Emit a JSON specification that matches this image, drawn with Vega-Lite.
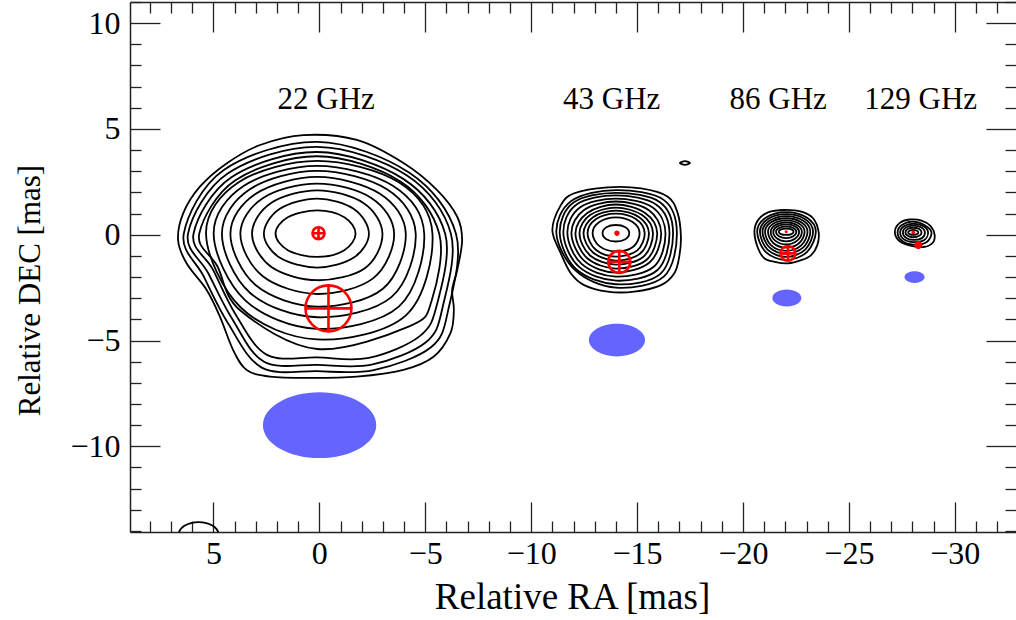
{
"$schema":"https://vega.github.io/schema/vega-lite/v6.json",
"width":886,"height":530,
"autosize":{"type":"none"},
"padding":{"left":130,"top":2,"right":0,"bottom":88},
"background":"white",
"config":{"view":{"stroke":null},"font":"Liberation Serif"},
"datasets":{
"contours":[
{"c":"a0","x":-1.71,"y":0.05},{"c":"a0","x":-1.18,"y":0.83},{"c":"a0","x":0.1,"y":1.15},{"c":"a0","x":1.49,"y":0.83},{"c":"a0","x":2.07,"y":0.05},{"c":"a0","x":1.49,"y":-0.73},{"c":"a0","x":0.1,"y":-1.05},{"c":"a0","x":-1.18,"y":-0.73},
{"c":"a1","x":-2.34,"y":0.05},{"c":"a1","x":-1.63,"y":1.22},{"c":"a1","x":0.1,"y":1.71},{"c":"a1","x":1.88,"y":1.22},{"c":"a1","x":2.62,"y":0.05},{"c":"a1","x":1.88,"y":-1.08},{"c":"a1","x":0.1,"y":-1.55},{"c":"a1","x":-1.63,"y":-1.08},
{"c":"a2","x":-2.98,"y":0.05},{"c":"a2","x":-2.08,"y":1.50},{"c":"a2","x":0.1,"y":2.10},{"c":"a2","x":2.28,"y":1.50},{"c":"a2","x":3.18,"y":0.05},{"c":"a2","x":2.28,"y":-1.51},{"c":"a2","x":0.1,"y":-2.15},{"c":"a2","x":-2.15,"y":-1.58},
{"c":"a3","x":-3.53,"y":0.05},{"c":"a3","x":-2.47,"y":1.73},{"c":"a3","x":0.1,"y":2.42},{"c":"a3","x":2.67,"y":1.73},{"c":"a3","x":3.73,"y":0.05},{"c":"a3","x":2.67,"y":-1.96},{"c":"a3","x":0.1,"y":-2.80},{"c":"a3","x":-2.55,"y":-2.05},
{"c":"a4","x":-4.08,"y":0.05},{"c":"a4","x":-2.86,"y":1.94},{"c":"a4","x":0.1,"y":2.73},{"c":"a4","x":3.00,"y":1.94},{"c":"a4","x":4.20,"y":0.05},{"c":"a4","x":3.00,"y":-2.39},{"c":"a4","x":0.1,"y":-3.40},{"c":"a4","x":-3.00,"y":-2.55},
{"c":"a5","x":-4.55,"y":0.05},{"c":"a5","x":-3.19,"y":2.15},{"c":"a5","x":0.1,"y":3.02},{"c":"a5","x":3.28,"y":2.15},{"c":"a5","x":4.60,"y":0.05},{"c":"a5","x":3.28,"y":-2.74},{"c":"a5","x":0.1,"y":-3.90},{"c":"a5","x":-3.40,"y":-2.95},
{"c":"a6","x":-4.95,"y":0.05},{"c":"a6","x":-3.47,"y":2.31},{"c":"a6","x":0.1,"y":3.25},{"c":"a6","x":3.56,"y":2.31},{"c":"a6","x":4.99,"y":0.05},{"c":"a6","x":3.50,"y":-3.10},{"c":"a6","x":0.1,"y":-4.45},{"c":"a6","x":-3.75,"y":-3.40},
{"c":"a7","x":-5.34,"y":0.05},{"c":"a7","x":-3.75,"y":2.48},{"c":"a7","x":0.1,"y":3.49},{"c":"a7","x":3.81,"y":2.48},{"c":"a7","x":5.35,"y":0.05},{"c":"a7","x":3.70,"y":-3.45},{"c":"a7","x":0.1,"y":-4.95},{"c":"a7","x":-4.10,"y":-3.80},
{"c":"a8","x":-5.66,"y":0.05},{"c":"a8","x":-3.81,"y":2.53},{"c":"a8","x":0.1,"y":3.71},{"c":"a8","x":3.96,"y":2.58},{"c":"a8","x":5.67,"y":0.05},{"c":"a8","x":4.82,"y":-1.48},{"c":"a8","x":3.73,"y":-3.58},{"c":"a8","x":0.1,"y":-5.40},{"c":"a8","x":-4.27,"y":-4.32},{"c":"a8","x":-5.31,"y":-3.08},
{"c":"a9","x":-5.94,"y":0.05},{"c":"a9","x":-3.96,"y":2.64},{"c":"a9","x":0.1,"y":3.91},{"c":"a9","x":4.15,"y":2.72},{"c":"a9","x":5.94,"y":0.05},{"c":"a9","x":5.03,"y":-1.64},{"c":"a9","x":3.94,"y":-3.79},{"c":"a9","x":2.47,"y":-5.68},{"c":"a9","x":0.1,"y":-5.80},{"c":"a9","x":-2.33,"y":-5.82},{"c":"a9","x":-4.74,"y":-4.79},{"c":"a9","x":-5.57,"y":-3.23},
{"c":"a10","x":-6.21,"y":0.05},{"c":"a10","x":-4.14,"y":2.80},{"c":"a10","x":0.1,"y":4.15},{"c":"a10","x":4.33,"y":2.89},{"c":"a10","x":6.20,"y":0.05},{"c":"a10","x":5.25,"y":-1.81},{"c":"a10","x":4.12,"y":-3.97},{"c":"a10","x":2.61,"y":-6.00},{"c":"a10","x":0.1,"y":-6.15},{"c":"a10","x":-2.47,"y":-6.14},{"c":"a10","x":-5.03,"y":-5.08},{"c":"a10","x":-5.83,"y":-3.38},
{"c":"a11","x":-6.45,"y":0.05},{"c":"a11","x":-4.25,"y":2.93},{"c":"a11","x":0.1,"y":4.39},{"c":"a11","x":4.51,"y":3.06},{"c":"a11","x":6.40,"y":0.05},{"c":"a11","x":5.46,"y":-1.97},{"c":"a11","x":4.32,"y":-4.17},{"c":"a11","x":2.72,"y":-6.28},{"c":"a11","x":0.1,"y":-6.45},{"c":"a11","x":-2.57,"y":-6.40},{"c":"a11","x":-5.27,"y":-5.32},{"c":"a11","x":-6.09,"y":-3.53},
{"c":"a12","x":6.67,"y":-0.25},{"c":"a12","x":6.43,"y":1.01},{"c":"a12","x":5.64,"y":2.27},{"c":"a12","x":4.38,"y":3.37},{"c":"a12","x":2.80,"y":4.24},{"c":"a12","x":0.75,"y":4.71},{"c":"a12","x":-1.77,"y":4.48},{"c":"a12","x":-3.97,"y":3.39},{"c":"a12","x":-5.56,"y":2.11},{"c":"a12","x":-6.51,"y":0.85},{"c":"a12","x":-6.74,"y":-0.25},{"c":"a12","x":-6.51,"y":-1.67},{"c":"a12","x":-6.27,"y":-2.61},{"c":"a12","x":-6.35,"y":-3.56},{"c":"a12","x":-6.19,"y":-4.65},{"c":"a12","x":-5.39,"y":-5.77},{"c":"a12","x":-3.97,"y":-6.39},{"c":"a12","x":-1.77,"y":-6.71},{"c":"a12","x":0.44,"y":-6.77},{"c":"a12","x":2.33,"y":-6.71},{"c":"a12","x":3.43,"y":-6.39},{"c":"a12","x":4.07,"y":-5.45},{"c":"a12","x":4.69,"y":-3.88},{"c":"a12","x":5.32,"y":-2.61},{"c":"a12","x":6.27,"y":-1.35},
{"c":"b0","x":-14.63,"y":0.07},{"c":"b0","x":-14.45,"y":0.35},{"c":"b0","x":-14.0,"y":0.46},{"c":"b0","x":-13.55,"y":0.35},{"c":"b0","x":-13.37,"y":0.07},{"c":"b0","x":-13.55,"y":-0.21},{"c":"b0","x":-14.0,"y":-0.32},{"c":"b0","x":-14.45,"y":-0.21},
{"c":"b1","x":-15.12,"y":0.07},{"c":"b1","x":-14.79,"y":0.60},{"c":"b1","x":-14.0,"y":0.82},{"c":"b1","x":-13.22,"y":0.60},{"c":"b1","x":-12.90,"y":0.07},{"c":"b1","x":-13.22,"y":-0.54},{"c":"b1","x":-14.0,"y":-0.79},{"c":"b1","x":-14.82,"y":-0.57},
{"c":"b2","x":-15.36,"y":0.07},{"c":"b2","x":-14.96,"y":0.73},{"c":"b2","x":-14.0,"y":1.00},{"c":"b2","x":-13.05,"y":0.73},{"c":"b2","x":-12.66,"y":0.07},{"c":"b2","x":-13.05,"y":-0.71},{"c":"b2","x":-14.0,"y":-1.03},{"c":"b2","x":-15.00,"y":-0.75},
{"c":"b3","x":-15.56,"y":0.07},{"c":"b3","x":-15.10,"y":0.83},{"c":"b3","x":-14.0,"y":1.14},{"c":"b3","x":-12.92,"y":0.83},{"c":"b3","x":-12.47,"y":0.07},{"c":"b3","x":-12.92,"y":-0.84},{"c":"b3","x":-14.0,"y":-1.22},{"c":"b3","x":-15.15,"y":-0.89},
{"c":"b4","x":-15.75,"y":0.07},{"c":"b4","x":-15.24,"y":0.93},{"c":"b4","x":-14.0,"y":1.28},{"c":"b4","x":-12.78,"y":0.93},{"c":"b4","x":-12.28,"y":0.07},{"c":"b4","x":-12.78,"y":-0.98},{"c":"b4","x":-14.0,"y":-1.41},{"c":"b4","x":-15.30,"y":-1.04},
{"c":"b5","x":-15.95,"y":0.07},{"c":"b5","x":-15.38,"y":1.03},{"c":"b5","x":-14.0,"y":1.43},{"c":"b5","x":-12.65,"y":1.03},{"c":"b5","x":-12.09,"y":0.07},{"c":"b5","x":-12.65,"y":-1.11},{"c":"b5","x":-14.0,"y":-1.60},{"c":"b5","x":-15.45,"y":-1.18},
{"c":"b6","x":-16.14,"y":0.07},{"c":"b6","x":-15.56,"y":1.16},{"c":"b6","x":-14.0,"y":1.57},{"c":"b6","x":-12.48,"y":1.16},{"c":"b6","x":-11.90,"y":0.07},{"c":"b6","x":-12.52,"y":-1.25},{"c":"b6","x":-14.0,"y":-1.79},{"c":"b6","x":-15.60,"y":-1.30},
{"c":"b7","x":-16.34,"y":0.07},{"c":"b7","x":-15.74,"y":1.29},{"c":"b7","x":-14.0,"y":1.71},{"c":"b7","x":-12.30,"y":1.29},{"c":"b7","x":-11.71,"y":0.07},{"c":"b7","x":-12.38,"y":-1.38},{"c":"b7","x":-14.0,"y":-1.98},{"c":"b7","x":-15.80,"y":-1.50},
{"c":"b8","x":-16.53,"y":0.07},{"c":"b8","x":-15.91,"y":1.42},{"c":"b8","x":-14.0,"y":1.86},{"c":"b8","x":-12.13,"y":1.42},{"c":"b8","x":-11.52,"y":0.07},{"c":"b8","x":-12.25,"y":-1.51},{"c":"b8","x":-14.0,"y":-2.17},{"c":"b8","x":-15.95,"y":-1.68},
{"c":"b9","x":-16.70,"y":0.07},{"c":"b9","x":-16.08,"y":1.54},{"c":"b9","x":-14.0,"y":1.98},{"c":"b9","x":-12.00,"y":1.52},{"c":"b9","x":-11.35,"y":0.07},{"c":"b9","x":-12.13,"y":-1.63},{"c":"b9","x":-14.0,"y":-2.34},{"c":"b9","x":-16.10,"y":-1.85},
{"c":"b10","x":-16.88,"y":0.07},{"c":"b10","x":-16.24,"y":1.66},{"c":"b10","x":-14.0,"y":2.11},{"c":"b10","x":-11.90,"y":1.60},{"c":"b10","x":-11.19,"y":0.07},{"c":"b10","x":-12.10,"y":-1.70},{"c":"b10","x":-14.0,"y":-2.50},{"c":"b10","x":-16.26,"y":-1.98},
{"c":"b11","x":-11.40,"y":1.40},{"c":"b11","x":-12.03,"y":1.96},{"c":"b11","x":-13.61,"y":2.24},{"c":"b11","x":-15.19,"y":2.19},{"c":"b11","x":-16.45,"y":1.80},{"c":"b11","x":-16.92,"y":1.01},{"c":"b11","x":-17.07,"y":-0.09},{"c":"b11","x":-16.99,"y":-1.04},{"c":"b11","x":-16.76,"y":-1.82},{"c":"b11","x":-16.13,"y":-2.38},{"c":"b11","x":-14.87,"y":-2.69},{"c":"b11","x":-13.61,"y":-2.69},{"c":"b11","x":-12.50,"y":-2.38},{"c":"b11","x":-11.87,"y":-1.82},{"c":"b11","x":-11.40,"y":-0.88},{"c":"b11","x":-11.00,"y":0.22},
{"c":"c0","x":-22.39,"y":0.14},{"c":"c0","x":-22.29,"y":0.25},{"c":"c0","x":-22.04,"y":0.29},{"c":"c0","x":-21.79,"y":0.25},{"c":"c0","x":-21.69,"y":0.14},{"c":"c0","x":-21.79,"y":0.03},{"c":"c0","x":-22.04,"y":-0.01},{"c":"c0","x":-22.29,"y":0.03},
{"c":"c1","x":-22.52,"y":0.14},{"c":"c1","x":-22.38,"y":0.32},{"c":"c1","x":-22.04,"y":0.39},{"c":"c1","x":-21.70,"y":0.32},{"c":"c1","x":-21.56,"y":0.14},{"c":"c1","x":-21.70,"y":-0.07},{"c":"c1","x":-22.04,"y":-0.16},{"c":"c1","x":-22.38,"y":-0.07},
{"c":"c2","x":-22.65,"y":0.14},{"c":"c2","x":-22.47,"y":0.39},{"c":"c2","x":-22.04,"y":0.49},{"c":"c2","x":-21.61,"y":0.39},{"c":"c2","x":-21.43,"y":0.14},{"c":"c2","x":-21.61,"y":-0.18},{"c":"c2","x":-22.04,"y":-0.31},{"c":"c2","x":-22.47,"y":-0.18},
{"c":"c3","x":-22.78,"y":0.14},{"c":"c3","x":-22.56,"y":0.45},{"c":"c3","x":-22.04,"y":0.58},{"c":"c3","x":-21.52,"y":0.45},{"c":"c3","x":-21.31,"y":0.14},{"c":"c3","x":-21.52,"y":-0.28},{"c":"c3","x":-22.04,"y":-0.46},{"c":"c3","x":-22.56,"y":-0.28},
{"c":"c4","x":-22.91,"y":0.14},{"c":"c4","x":-22.66,"y":0.52},{"c":"c4","x":-22.04,"y":0.68},{"c":"c4","x":-21.43,"y":0.52},{"c":"c4","x":-21.18,"y":0.14},{"c":"c4","x":-21.43,"y":-0.39},{"c":"c4","x":-22.04,"y":-0.61},{"c":"c4","x":-22.66,"y":-0.39},
{"c":"c5","x":-23.05,"y":0.14},{"c":"c5","x":-22.75,"y":0.59},{"c":"c5","x":-22.04,"y":0.78},{"c":"c5","x":-21.33,"y":0.59},{"c":"c5","x":-21.04,"y":0.14},{"c":"c5","x":-21.33,"y":-0.50},{"c":"c5","x":-22.04,"y":-0.76},{"c":"c5","x":-22.75,"y":-0.50},
{"c":"c6","x":-23.18,"y":0.14},{"c":"c6","x":-22.85,"y":0.66},{"c":"c6","x":-22.04,"y":0.88},{"c":"c6","x":-21.25,"y":0.66},{"c":"c6","x":-20.92,"y":0.14},{"c":"c6","x":-21.25,"y":-0.60},{"c":"c6","x":-22.04,"y":-0.90},{"c":"c6","x":-22.85,"y":-0.60},
{"c":"c7","x":-23.31,"y":0.14},{"c":"c7","x":-22.94,"y":0.73},{"c":"c7","x":-22.04,"y":0.97},{"c":"c7","x":-21.16,"y":0.73},{"c":"c7","x":-20.80,"y":0.14},{"c":"c7","x":-21.16,"y":-0.70},{"c":"c7","x":-22.04,"y":-1.05},{"c":"c7","x":-22.94,"y":-0.70},
{"c":"c8","x":-23.44,"y":0.14},{"c":"c8","x":-23.03,"y":0.80},{"c":"c8","x":-22.04,"y":1.07},{"c":"c8","x":-21.07,"y":0.80},{"c":"c8","x":-20.67,"y":0.14},{"c":"c8","x":-21.07,"y":-0.81},{"c":"c8","x":-22.04,"y":-1.20},{"c":"c8","x":-23.03,"y":-0.81},
{"c":"c9","x":-20.54,"y":0.14},{"c":"c9","x":-20.71,"y":0.69},{"c":"c9","x":-21.18,"y":1.06},{"c":"c9","x":-21.96,"y":1.17},{"c":"c9","x":-22.75,"y":1.09},{"c":"c9","x":-23.31,"y":0.78},{"c":"c9","x":-23.57,"y":0.14},{"c":"c9","x":-23.51,"y":-0.49},{"c":"c9","x":-23.22,"y":-0.96},{"c":"c9","x":-22.75,"y":-1.20},{"c":"c9","x":-22.12,"y":-1.35},{"c":"c9","x":-21.49,"y":-1.28},{"c":"c9","x":-21.02,"y":-1.12},{"c":"c9","x":-20.71,"y":-0.64},
{"c":"d0","x":-28.28,"y":0.11},{"c":"d0","x":-28.21,"y":0.19},{"c":"d0","x":-28.04,"y":0.23},{"c":"d0","x":-27.87,"y":0.19},{"c":"d0","x":-27.80,"y":0.11},{"c":"d0","x":-27.87,"y":0.03},{"c":"d0","x":-28.04,"y":-0.01},{"c":"d0","x":-28.21,"y":0.03},
{"c":"d1","x":-28.43,"y":0.11},{"c":"d1","x":-28.32,"y":0.27},{"c":"d1","x":-28.04,"y":0.33},{"c":"d1","x":-27.78,"y":0.27},{"c":"d1","x":-27.67,"y":0.11},{"c":"d1","x":-27.78,"y":-0.05},{"c":"d1","x":-28.04,"y":-0.12},{"c":"d1","x":-28.32,"y":-0.05},
{"c":"d2","x":-28.59,"y":0.11},{"c":"d2","x":-28.43,"y":0.34},{"c":"d2","x":-28.04,"y":0.43},{"c":"d2","x":-27.69,"y":0.34},{"c":"d2","x":-27.55,"y":0.11},{"c":"d2","x":-27.69,"y":-0.14},{"c":"d2","x":-28.04,"y":-0.24},{"c":"d2","x":-28.45,"y":-0.16},
{"c":"d3","x":-28.74,"y":0.11},{"c":"d3","x":-28.53,"y":0.40},{"c":"d3","x":-28.04,"y":0.52},{"c":"d3","x":-27.60,"y":0.40},{"c":"d3","x":-27.42,"y":0.11},{"c":"d3","x":-27.60,"y":-0.22},{"c":"d3","x":-28.04,"y":-0.35},{"c":"d3","x":-28.56,"y":-0.25},
{"c":"d4","x":-28.90,"y":0.11},{"c":"d4","x":-28.60,"y":0.44},{"c":"d4","x":-28.04,"y":0.62},{"c":"d4","x":-27.52,"y":0.47},{"c":"d4","x":-27.30,"y":0.11},{"c":"d4","x":-27.52,"y":-0.30},{"c":"d4","x":-28.04,"y":-0.47},{"c":"d4","x":-28.68,"y":-0.34},
{"c":"d5","x":-27.17,"y":0.13},{"c":"d5","x":-27.39,"y":0.55},{"c":"d5","x":-27.87,"y":0.72},{"c":"d5","x":-28.43,"y":0.67},{"c":"d5","x":-28.86,"y":0.41},{"c":"d5","x":-29.05,"y":-0.01},{"c":"d5","x":-28.95,"y":-0.39},{"c":"d5","x":-28.53,"y":-0.58},{"c":"d5","x":-27.96,"y":-0.53},{"c":"d5","x":-27.39,"y":-0.30},
{"c":"e","x":-17.02,"y":3.39},{"c":"e","x":-17.26,"y":3.48},{"c":"e","x":-17.50,"y":3.39},{"c":"e","x":-17.26,"y":3.30},
{"c":"f","x":6.65,"y":-14.2},{"c":"f","x":6.37,"y":-13.76},{"c":"f","x":5.7,"y":-13.58},{"c":"f","x":5.03,"y":-13.76},{"c":"f","x":4.75,"y":-14.2},{"c":"f","x":5.03,"y":-14.64},{"c":"f","x":5.7,"y":-14.82},{"c":"f","x":6.37,"y":-14.64}
],
"beams":[{"x":-0.01,"y":-9.0,"d":5.35},{"x":-14.05,"y":-4.98,"d":2.65},{"x":-22.07,"y":-2.99,"d":1.37},{"x":-28.10,"y":-2.0,"d":0.95}],
"crosses":[{"x":0.04,"y":0.07,"d":0.57},{"x":-0.43,"y":-3.48,"d":2.17},{"x":-14.16,"y":-1.28,"d":1.04},{"x":-22.12,"y":-0.88,"d":0.70}],
"dots":[{"x":-14.05,"y":0.07,"d":0.25},{"x":-28.28,"y":-0.49,"d":0.38},{"x":-28.04,"y":0.11,"d":0.18},{"x":-22.04,"y":0.14,"d":0.15}],
"labels":[{"t":"22 GHz","x":-0.32,"y":6.37},{"t":"43 GHz","x":-13.8,"y":6.37},{"t":"86 GHz","x":-21.66,"y":6.37},{"t":"129 GHz","x":-28.39,"y":6.37}]
},
"resolve":{"axis":{"x":"independent","y":"independent"}},
"layer":[
{"data":{"name":"contours"},
"mark":{"type":"line","interpolate":"cardinal-closed","color":"black","strokeWidth":1.8,"clip":true},
"encoding":{
"x":{"field":"x","type":"quantitative","scale":{"domain":[8.94,-32.89],"nice":false,"zero":false},
"axis":{"orient":"bottom","values":[8,7,6,5,4,3,2,1,0,-1,-2,-3,-4,-5,-6,-7,-8,-9,-10,-11,-12,-13,-14,-15,-16,-17,-18,-19,-20,-21,-22,-23,-24,-25,-26,-27,-28,-29,-30,-31,-32],
"labelExpr":"datum.value % 5 === 0 ? datum.label : ''","tickSize":{"condition":{"test":"datum.value % 5 === 0","value":-30},"value":-11},
"tickColor":"#222","tickWidth":1.3,"domainColor":"#222","domainWidth":1.5,"grid":false,
"labelFont":"Liberation Serif","labelFontSize":32,"labelColor":"black","labelPadding":36,"labelFlush":false,"labelOverlap":false,"labelBound":false,
"title":"Relative RA [mas]","titleFont":"Liberation Serif","titleFontSize":37,"titleFontWeight":"normal","titleColor":"black","titleX":442,"titleY":65,"titleBaseline":"middle","titleAlign":"center"}},
"y":{"field":"y","type":"quantitative","scale":{"domain":[-14.05,11],"nice":false,"zero":false},
"axis":{"orient":"left","values":[11,10,9,8,7,6,5,4,3,2,1,0,-1,-2,-3,-4,-5,-6,-7,-8,-9,-10,-11,-12,-13,-14],
"labelExpr":"datum.value % 5 === 0 ? datum.label : ''","tickSize":{"condition":{"test":"datum.value % 5 === 0","value":-30},"value":-11},
"tickColor":"#222","tickWidth":1.3,"domainColor":"#222","domainWidth":1.5,"grid":false,
"labelFont":"Liberation Serif","labelFontSize":32,"labelColor":"black","labelPadding":40,"labelFlush":false,"labelOverlap":false,"labelBound":false,
"title":"Relative DEC [mas]","titleFont":"Liberation Serif","titleFontSize":31,"titleFontWeight":"normal","titleColor":"black","titleX":-100,"titleY":288,"titleBaseline":"middle","titleAlign":"center","titleAngle":-90}},
"detail":{"field":"c"},
"order":{"value":null}}},
{"data":{"name":"beams"},
"mark":{"type":"point","shape":"M-1,0A1,0.58,0,1,1,1,0A1,0.58,0,1,1,-1,0Z","filled":true,"color":"#6464ff","opacity":1,"strokeWidth":0},
"encoding":{
"x":{"field":"x","type":"quantitative","scale":{"domain":[8.94,-32.89],"nice":false,"zero":false},
"axis":{"orient":"top","values":[8,7,6,5,4,3,2,1,0,-1,-2,-3,-4,-5,-6,-7,-8,-9,-10,-11,-12,-13,-14,-15,-16,-17,-18,-19,-20,-21,-22,-23,-24,-25,-26,-27,-28,-29,-30,-31,-32],
"labels":false,"tickSize":{"condition":{"test":"datum.value % 5 === 0","value":-30},"value":-11},
"tickColor":"#222","tickWidth":1.3,"domainColor":"#222","domainWidth":1.5,"grid":false,"title":null}},
"y":{"field":"y","type":"quantitative","scale":{"domain":[-14.05,11],"nice":false,"zero":false},
"axis":{"orient":"right","values":[11,10,9,8,7,6,5,4,3,2,1,0,-1,-2,-3,-4,-5,-6,-7,-8,-9,-10,-11,-12,-13,-14],
"labels":false,"tickSize":{"condition":{"test":"datum.value % 5 === 0","value":-30},"value":-11},
"tickColor":"#222","tickWidth":1.3,"domain":false,"grid":false,"title":null}},
"size":{"field":"d","type":"quantitative","scale":{"type":"pow","exponent":2,"domain":[0,10],"range":[0,44860]},"legend":null}}},
{"data":{"name":"crosses"},
"mark":{"type":"point","shape":"M-1,0A1,1,0,1,1,1,0A1,1,0,1,1,-1,0ZM-1,0L1,0M0,-1L0,1","filled":false,"color":"#ff0000","opacity":1,"strokeWidth":2.6},
"encoding":{
"x":{"field":"x","type":"quantitative","scale":{"domain":[8.94,-32.89],"nice":false,"zero":false},"axis":null},
"y":{"field":"y","type":"quantitative","scale":{"domain":[-14.05,11],"nice":false,"zero":false},"axis":null},
"size":{"field":"d","type":"quantitative","scale":{"type":"pow","exponent":2,"domain":[0,10],"range":[0,44860]},"legend":null}}},
{"data":{"name":"dots"},
"mark":{"type":"point","shape":"M-1,0A1,1,0,1,1,1,0A1,1,0,1,1,-1,0Z","filled":true,"color":"#ff0000","opacity":1,"strokeWidth":0},
"encoding":{
"x":{"field":"x","type":"quantitative","scale":{"domain":[8.94,-32.89],"nice":false,"zero":false},"axis":null},
"y":{"field":"y","type":"quantitative","scale":{"domain":[-14.05,11],"nice":false,"zero":false},"axis":null},
"size":{"field":"d","type":"quantitative","scale":{"type":"pow","exponent":2,"domain":[0,10],"range":[0,44860]},"legend":null}}},
{"data":{"name":"labels"},
"mark":{"type":"text","font":"Liberation Serif","fontSize":31,"color":"black","align":"center","baseline":"middle"},
"encoding":{
"x":{"field":"x","type":"quantitative","scale":{"domain":[8.94,-32.89],"nice":false,"zero":false},"axis":null},
"y":{"field":"y","type":"quantitative","scale":{"domain":[-14.05,11],"nice":false,"zero":false},"axis":null},
"text":{"field":"t"}}}
]
}
